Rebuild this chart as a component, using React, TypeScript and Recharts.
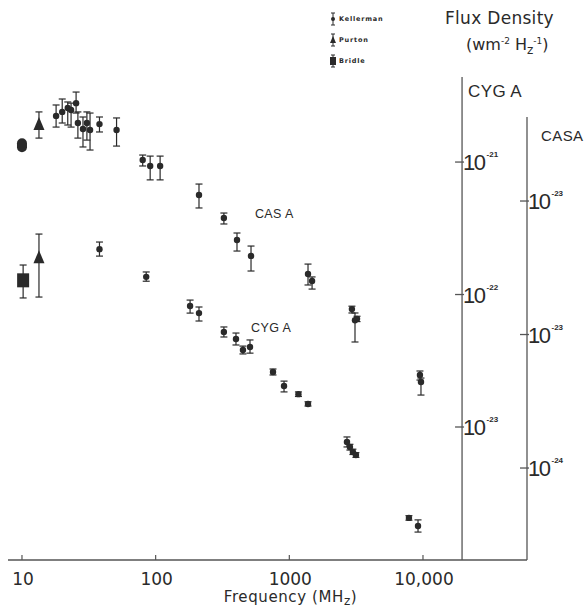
import React from 'react';
import {
  ScatterChart,
  Scatter,
  XAxis,
  YAxis,
  ErrorBar,
  ReferenceLine,
  ReferenceDot,
  Legend,
  Label,
} from 'recharts';

// [frequency MHz, flux density W m^-2 Hz^-1, error low, error high]
type Pt = [number, number, number, number];

const kellermanCas: Pt[] = [
  [18, 4.34e-22, 3.58e-22, 5.24e-22],
  [20, 4.65e-22, 3.84e-22, 5.81e-22],
  [22, 4.98e-22, 3.71e-22, 5.52e-22],
  [23.3, 4.81e-22, 3.58e-22, 5.41e-22],
  [25.4, 5.41e-22, 4.56e-22, 6.55e-22],
  [26.2, 3.84e-22, 2.96e-22, 4.65e-22],
  [28.6, 3.46e-22, 2.54e-22, 4.26e-22],
  [30.6, 3.84e-22, 2.86e-22, 4.65e-22],
  [32.3, 3.4e-22, 2.41e-22, 4.56e-22],
  [38, 3.77e-22, 3.29e-22, 4.26e-22],
  [51, 3.4e-22, 2.58e-22, 4.19e-22],
  [80, 2.03e-22, 1.83e-22, 2.21e-22],
  [91, 1.83e-22, 1.44e-22, 2.17e-22],
  [108, 1.83e-22, 1.44e-22, 2.17e-22],
  [211, 1.11e-22, 8.87e-23, 1.34e-22],
  [324, 7.46e-23, 6.73e-23, 8.13e-23],
  [406, 5.11e-23, 4.22e-23, 5.76e-23],
  [517, 3.88e-23, 2.99e-23, 4.6e-23],
  [1380, 2.84e-23, 2.35e-23, 3.37e-23],
  [1480, 2.52e-23, 2.19e-23, 2.7e-23],
  [2940, 1.55e-23, 1.45e-23, 1.63e-23],
  [3100, 1.28e-23, 8.79e-24, 1.45e-23],
  [3210, 1.31e-23, 1.25e-23, 1.37e-23],
  [9490, 4.98e-24, 4.56e-24, 5.33e-24],
  [9660, 4.41e-24, 3.52e-24, 4.72e-24],
];
const purtonCas: Pt[] = [[13.4, 3.71e-22, 2.96e-22, 4.65e-22]];
const bridleCas: Pt[] = [[10, 2.62e-22, 2.5e-22, 2.75e-22]];

const kellermanCyg: Pt[] = [
  [38, 2.2e-22, 1.95e-22, 2.49e-22],
  [85, 1.36e-22, 1.26e-22, 1.48e-22],
  [181, 8.19e-23, 7.24e-23, 9.08e-23],
  [211, 7.24e-23, 6.31e-23, 8.05e-23],
  [324, 5.21e-23, 4.78e-23, 5.69e-23],
  [399, 4.61e-23, 4.16e-23, 5.12e-23],
  [450, 3.81e-23, 3.56e-23, 4.08e-23],
  [508, 4.02e-23, 3.61e-23, 4.54e-23],
  [755, 2.6e-23, 2.47e-23, 2.74e-23],
  [913, 2.04e-23, 1.84e-23, 2.22e-23],
  [1170, 1.77e-23, 1.7e-23, 1.84e-23],
  [1380, 1.49e-23, 1.44e-23, 1.55e-23],
  [2700, 7.71e-24, 7.07e-24, 8.41e-24],
  [2840, 7.07e-24, 6.7e-24, 7.4e-24],
  [2990, 6.47e-24, 6.2e-24, 6.8e-24],
  [3150, 6.15e-24, 5.9e-24, 6.4e-24],
  [7850, 2.06e-24, 1.98e-24, 2.14e-24],
  [9180, 1.79e-24, 1.61e-24, 1.99e-24],
];
const purtonCyg: Pt[] = [[13.4, 1.88e-22, 9.57e-23, 2.86e-22]];
const bridleCyg: Pt[] = [[10.2, 1.28e-22, 9.42e-23, 1.67e-22]];

const freqTicks = [10, 100, 1000, 10000];
const freqTickLabels = ['10', '100', '1000', '10,000'];
const cygTicks = [1e-21, 1e-22, 1e-23];
const cygTickLabels = ['-21', '-22', '-23'];
const casTicks = [1e-22, 1e-23, 1e-24];
const casTickLabels = ['-23', '-23', '-24'];
const legendNames = ['Kellerman', 'Purton', 'Bridle'];

// axis ranges
const freqDomain = [7.86, 60000];
const cygDomain = [10 ** -24.004, 10 ** -20.358];
const casDomain = [10 ** -24.689, 10 ** -21.071];
const cygAxisFreq = 19600;
const casAxisFreq = 60000;
const casAxisTop = 10 ** -21.371;

const INK = '#2a2a2a';
const LINE = '#555';
const FONT = '"DejaVu Sans", sans-serif';

const toRows = (pts: Pt[]) =>
  pts.map(([f, s, lo, hi]) => ({ f, s, err: [s - lo, hi - s] }));

const Dot = (p: any) => <circle cx={p.cx} cy={p.cy} r={3.2} fill={INK} />;
const Tri = (p: any) => (
  <polygon
    points={`${p.cx},${p.cy - 8} ${p.cx - 5.5},${p.cy + 5} ${p.cx + 5.5},${p.cy + 5}`}
    fill={INK}
  />
);
const Square = (p: any) => (
  <rect x={p.cx - 6} y={p.cy - 7} width={12} height={14} fill={INK} />
);
const Oval = (p: any) => (
  <rect x={p.cx - 5} y={p.cy - 7} width={10} height={14} rx={5} fill={INK} />
);

const FreqTick = ({ x, y, payload }: any) => (
  <g>
    <line x1={x} x2={x} y1={y - 5} y2={y} stroke={LINE} strokeWidth={1.2} />
    <text x={x + 1} y={y + 25} textAnchor="middle" fontSize={17} fill={INK} fontFamily={FONT}>
      {freqTickLabels[freqTicks.indexOf(payload.value)]}
    </text>
  </g>
);

const FreqTitle = (props: any) => {
  const { x, y, width } = props.viewBox;
  return (
    <text x={x + width / 2 + 23} y={y + 42} textAnchor="middle" fontSize={15} fill={INK}
      fontFamily={FONT} letterSpacing={0.6}>
      Frequency (MH<tspan dy={3} fontSize={12}>z</tspan><tspan dy={-3}>)</tspan>
    </text>
  );
};

const PowerTick = (exp: string) => (p: any) => (
  <g>
    <line x1={p.cx - 7} x2={p.cx + 2} y1={p.cy} y2={p.cy} stroke={LINE} strokeWidth={1.3} />
    <text x={p.cx + 1} y={p.cy + 8} fontSize={22} fill={INK} letterSpacing={-1.5}
      fontFamily='"Liberation Sans", sans-serif'>
      10
      <tspan dx={2} dy={-13} fontSize={8} fontWeight="bold" letterSpacing={0}>{exp}</tspan>
    </text>
  </g>
);

const TextMark = (txt: string, dx: number, dy: number, size: number) => (p: any) => (
  <text x={p.cx + dx} y={p.cy + dy} fontSize={size} fill={INK}
    fontFamily='"Liberation Sans", sans-serif' letterSpacing={0.4}>
    {txt}
  </text>
);

const LegendIcon = ({ kind }: { kind: number }) => (
  <svg width={8} height={14}>
    <line x1={4} x2={4} y1={1} y2={13} stroke={INK} strokeWidth={1} />
    <line x1={2} x2={6} y1={1} y2={1} stroke={INK} strokeWidth={1} />
    <line x1={2} x2={6} y1={13} y2={13} stroke={INK} strokeWidth={1} />
    {kind === 0 && <circle cx={4} cy={7} r={2} fill={INK} />}
    {kind === 1 && <polygon points="4,3 1,10 7,10" fill={INK} />}
    {kind === 2 && <rect x={1} y={3} width={6} height={8} fill={INK} />}
  </svg>
);

const LegendBox = () => (
  <div style={{ fontFamily: FONT, fontSize: 6.5, fontWeight: 'bold', color: INK, letterSpacing: 0.8 }}>
    {legendNames.map((n, i) => (
      <div key={n} style={{ display: 'flex', alignItems: 'center', height: 21 }}>
        <LegendIcon kind={i} />
        <span style={{ marginLeft: 2 }}>{n}</span>
      </div>
    ))}
  </div>
);

const series = [
  { rows: toRows(kellermanCas), axis: 'cas', shape: Dot },
  { rows: toRows(purtonCas), axis: 'cas', shape: Tri },
  { rows: toRows(bridleCas), axis: 'cas', shape: Oval },
  { rows: toRows(kellermanCyg), axis: 'cyg', shape: Dot },
  { rows: toRows(purtonCyg), axis: 'cyg', shape: Tri },
  { rows: toRows(bridleCyg), axis: 'cyg', shape: Square },
];

export default function App() {
  return (
    <div style={{ position: 'absolute', left: 0, top: 0, width: 586, height: 608, background: '#fff' }}>
      <ScatterChart width={586} height={608} margin={{ top: 77, right: 59, bottom: 0, left: 8 }}>
        <XAxis
          dataKey="f"
          type="number"
          scale="log"
          domain={freqDomain}
          allowDataOverflow
          ticks={freqTicks}
          tick={(p: any) => <FreqTick {...p} />}
          tickLine={false}
          tickSize={0}
          tickMargin={0}
          height={48}
          axisLine={{ stroke: LINE, strokeWidth: 1.3 }}
        >
          <Label content={FreqTitle} />
        </XAxis>
        <YAxis yAxisId="cyg" dataKey="s" type="number" scale="log" domain={cygDomain} allowDataOverflow hide />
        <YAxis yAxisId="cas" dataKey="s" type="number" scale="log" domain={casDomain} allowDataOverflow hide />

        <ReferenceLine yAxisId="cyg" x={cygAxisFreq} stroke={LINE} strokeWidth={1.3} ifOverflow="visible" />
        <ReferenceLine
          yAxisId="cas"
          segment={[{ x: casAxisFreq, y: casAxisTop }, { x: casAxisFreq, y: casDomain[0] }]}
          stroke={LINE}
          strokeWidth={1.3}
          ifOverflow="visible"
        />
        {cygTicks.map((t, i) => (
          <ReferenceDot key={`cy${i}`} yAxisId="cyg" x={cygAxisFreq} y={t} ifOverflow="visible"
            shape={PowerTick(cygTickLabels[i])} />
        ))}
        {casTicks.map((t, i) => (
          <ReferenceDot key={`ca${i}`} yAxisId="cas" x={casAxisFreq} y={t} ifOverflow="visible"
            shape={PowerTick(casTickLabels[i])} />
        ))}
        <ReferenceDot yAxisId="cyg" x={cygAxisFreq} y={cygDomain[1]} ifOverflow="visible"
          shape={TextMark('CYG A', 6, 20, 17)} />
        <ReferenceDot yAxisId="cas" x={casAxisFreq} y={casAxisTop} ifOverflow="visible"
          shape={TextMark('CASA', 14, 24, 15)} />
        <ReferenceDot yAxisId="cas" x={553} y={7.46e-23} ifOverflow="visible"
          shape={TextMark('CAS A', 0, 0, 12.5)} />
        <ReferenceDot yAxisId="cyg" x={517} y={5.21e-23} ifOverflow="visible"
          shape={TextMark('CYG A', 0, 0, 12.5)} />

        {series.map((s, i) => (
          <Scatter key={i} data={s.rows} yAxisId={s.axis} shape={s.shape} isAnimationActive={false}>
            <ErrorBar dataKey="err" direction="y" width={3.5} stroke={INK} strokeWidth={1.2} />
          </Scatter>
        ))}

        <Legend
          layout="vertical"
          align="center"
          verticalAlign="middle"
          content={<LegendBox />}
          wrapperStyle={{ left: 329, top: 8, width: 70 }}
        />
      </ScatterChart>
      <div style={{ position: 'absolute', left: 445, top: 8, fontFamily: FONT, fontSize: 17, color: INK, letterSpacing: 0.3 }}>
        Flux Density
      </div>
      <div style={{ position: 'absolute', left: 466, top: 35, fontFamily: FONT, fontSize: 16, color: INK }}>
        (wm<sup style={{ fontSize: 9 }}>-2</sup> H<sub style={{ fontSize: 12 }}>z</sub><sup style={{ fontSize: 9 }}>-1</sup>)
      </div>
    </div>
  );
}
